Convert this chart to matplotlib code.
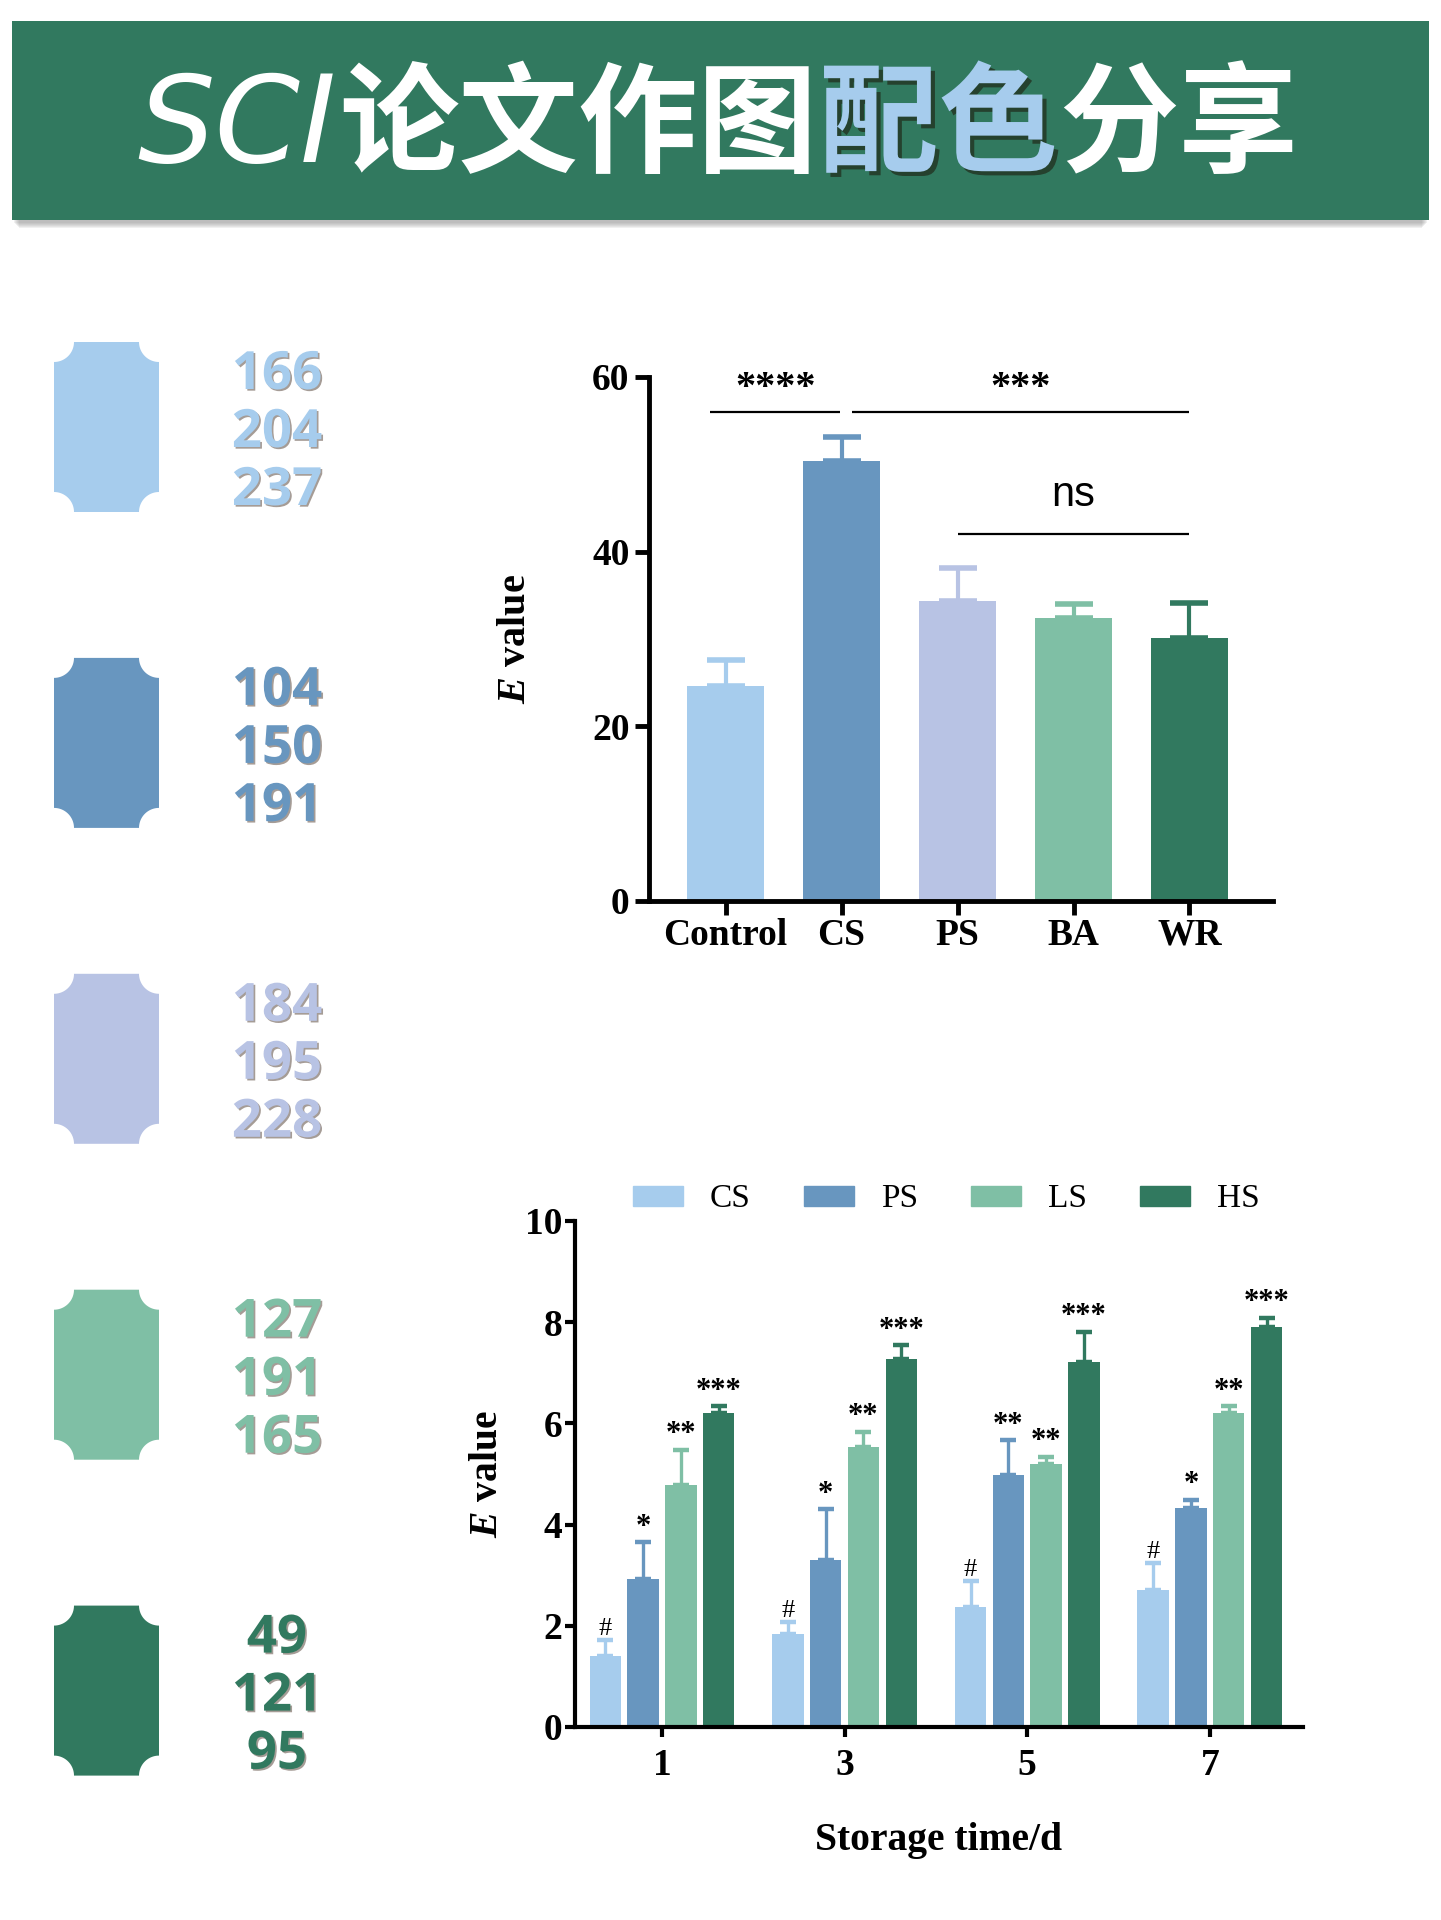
import matplotlib
matplotlib.use('Agg')
import matplotlib.pyplot as plt
import matplotlib.patheffects as pe
from matplotlib.patches import Rectangle, Polygon, Patch
import numpy as np

plt.rcParams['font.family'] = 'Liberation Serif'
plt.rcParams['font.weight'] = 'bold'
plt.rcParams['axes.labelweight'] = 'bold'
plt.rcParams['mathtext.fontset'] = 'custom'
plt.rcParams['mathtext.it'] = 'Liberation Serif:italic:bold'
plt.rcParams['mathtext.rm'] = 'Liberation Serif:bold'

# palette (RGB values printed next to each swatch)
palette_rgb = [(166, 204, 237), (104, 150, 191), (184, 195, 228), (127, 191, 165), (49, 121, 95)]
colors = ['#%02x%02x%02x' % c for c in palette_rgb]

# top chart
groups = ['Control', 'CS', 'PS', 'BA', 'WR']
group_means = [24.6, 50.4, 34.3, 32.4, 30.1]
group_errs = [3.0, 2.7, 3.8, 1.6, 4.0]
group_colors = [colors[0], colors[1], colors[2], colors[3], colors[4]]
sig_x0 = [-0.13, 1.09, 2.0]
sig_x1 = [0.99, 4.0, 4.0]
sig_y = [56, 56, 42]
sig_text = ['****', '***', 'ns']

# bottom chart
days = ['1', '3', '5', '7']
series = ['CS', 'PS', 'LS', 'HS']
cs_mean = [1.41, 1.84, 2.37, 2.71]
ps_mean = [2.93, 3.30, 4.99, 4.32]
ls_mean = [4.78, 5.53, 5.20, 6.20]
hs_mean = [6.20, 7.27, 7.21, 7.91]
cs_err = [0.31, 0.23, 0.51, 0.53]
ps_err = [0.72, 1.00, 0.68, 0.17]
ls_err = [0.70, 0.30, 0.14, 0.14]
hs_err = [0.14, 0.27, 0.60, 0.18]
cs_sig = ['#', '#', '#', '#']
ps_sig = ['*', '*', '**', '*']
ls_sig = ['**', '**', '**', '**']
hs_sig = ['***', '***', '***', '***']
series_colors = [colors[0], colors[1], colors[3], colors[4]]

W, H = 1441, 1920
fig = plt.figure(figsize=(W / 100, H / 100), dpi=100)
fig.patch.set_facecolor('white')

# background layer in pixel coordinates
bg = fig.add_axes([0, 0, 1, 1])
bg.set_xlim(0, W)
bg.set_ylim(H, 0)
bg.axis('off')

# banner + soft shadow
for i in range(6):
    bg.add_patch(Rectangle((14 + i, 24 + i), W - 28 - 2 * i, 199, color='#8a8a8a', alpha=0.12, lw=0))
bg.add_patch(Rectangle((12, 21), W - 24, 199, color=colors[4], lw=0))

title_size = 86
cjk = ['Noto Sans CJK SC', 'DejaVu Sans']
ty = 128
bg.text(336, ty, 'SCI', family='DejaVu Sans', style='oblique', weight='normal',
        fontsize=88, color='white', ha='right', va='center')
bg.text(339, ty, '论文作图', family=cjk, weight='heavy', fontsize=title_size,
        color='white', ha='left', va='center')
bg.text(819, ty, '配色', family=cjk, weight='heavy', fontsize=title_size,
        color=colors[0], ha='left', va='center',
        path_effects=[pe.withSimplePatchShadow(offset=(3, -3), shadow_rgbFace='#223322', alpha=0.8)])
bg.text(1059, ty, '分享', family=cjk, weight='heavy', fontsize=title_size,
        color='white', ha='left', va='center')

# swatches with notched corners
def notched(x0, y0, w, h, r, n=20):
    t = np.linspace(0, np.pi / 2, n)
    x1, y1 = x0 + w, y0 + h
    pts = []
    pts += list(zip(x0 + r * np.sin(t), y0 + r * np.cos(t)))
    pts += list(zip(x1 - r * np.cos(t), y0 + r * np.sin(t)))
    pts += list(zip(x1 - r * np.sin(t), y1 - r * np.cos(t)))
    pts += list(zip(x0 + r * np.cos(t), y1 - r * np.sin(t)))
    return np.array(pts)

sw_top = 342
sw_step = 315.9
for k, (rgb, c) in enumerate(zip(palette_rgb, colors)):
    top = sw_top + k * sw_step
    bg.add_patch(Polygon(notched(54, top, 105, 170, 20), closed=True, color=c, lw=0))
    cy = top + 85
    for j, v in enumerate(rgb):
        bg.text(277, cy - 38 + 58 * j, str(v), family='Open Sans', weight='bold', fontsize=38,
                color=c, ha='center', va='baseline',
                path_effects=[pe.withSimplePatchShadow(offset=(1.2, -1.2), shadow_rgbFace='#6a5a50', alpha=0.6)])

# ---- top chart ----
ax1 = fig.add_axes([649 / W, 1 - 901 / H, (1273 - 649) / W, (901 - 377) / H])
x = np.arange(len(groups))
ax1.bar(x, group_means, width=0.66, color=group_colors, zorder=2)
for xi, m, e, c in zip(x, group_means, group_errs, group_colors):
    ax1.errorbar(xi, m, yerr=[[0], [e]], fmt='none', ecolor=c, elinewidth=3,
                 capsize=14, capthick=4, zorder=3)
for a, b, y, s in zip(sig_x0, sig_x1, sig_y, sig_text):
    ax1.plot([a, b], [y, y], color='black', lw=1.6, solid_capstyle='butt')
    if s == 'ns':
        ax1.text((a + b) / 2, y + 3.2, s, family='Liberation Sans', weight='normal',
                 fontsize=30, ha='center', va='baseline')
    else:
        ax1.text((a + b) / 2, y + 1.6, s, fontsize=29, ha='center', va='baseline')
ax1.set_xlim(-0.66, 4.72)
ax1.set_ylim(0, 60)
ax1.set_yticks([0, 20, 40, 60])
ax1.set_xticks(x)
ax1.set_xticklabels(groups)
ax1.set_ylabel(r'$\mathit{E}$ value', fontsize=29, labelpad=42)
for s in ['top', 'right']:
    ax1.spines[s].set_visible(False)
for s in ['left', 'bottom']:
    ax1.spines[s].set_linewidth(3.5)
ax1.tick_params(width=3.5, length=10, labelsize=27)
ax1.tick_params(axis='x', pad=2)
ax1.tick_params(axis='y', pad=4)

# ---- bottom chart ----
ax2 = fig.add_axes([575 / W, 1 - 1727 / H, (1303 - 575) / W, (1727 - 1221) / H])
xd = np.arange(len(days))
step, bw = 0.207, 0.172
means = [cs_mean, ps_mean, ls_mean, hs_mean]
errs = [cs_err, ps_err, ls_err, hs_err]
sigs = [cs_sig, ps_sig, ls_sig, hs_sig]
handles = []
for i, (name, m, e, sg, c) in enumerate(zip(series, means, errs, sigs, series_colors)):
    xs = xd + (i - 1.5) * step
    ax2.bar(xs, m, width=bw, color=c, zorder=2)
    handles.append(Patch(color=c, label=name))
    for xi, mi, ei, si in zip(xs, m, e, sg):
        ax2.errorbar(xi, mi, yerr=[[0], [ei]], fmt='none', ecolor=c, elinewidth=2.4,
                     capsize=6, capthick=3.2, zorder=3)
        if si == '#':
            ax2.text(xi, mi + ei + 0.1, si, weight='normal', fontsize=19, ha='center', va='baseline')
        else:
            ax2.text(xi, mi + ei + 0.15, si, fontsize=22, ha='center', va='baseline')
ax2.set_xlim(-0.476, 3.51)
ax2.set_ylim(0, 10)
ax2.set_yticks(np.arange(0, 11, 2))
ax2.set_xticks(xd)
ax2.set_xticklabels(days)
ax2.set_ylabel(r'$\mathit{E}$ value', fontsize=28.5, labelpad=14)
ax2.set_xlabel('Storage time/d', fontsize=28.5, labelpad=28)
for s in ['top', 'right']:
    ax2.spines[s].set_visible(False)
for s in ['left', 'bottom']:
    ax2.spines[s].set_linewidth(3)
ax2.tick_params(width=3, length=7, labelsize=27)
ax2.tick_params(axis='x', pad=8)
ax2.tick_params(axis='y', pad=2)
ax2.legend(handles=handles, ncol=4, loc='center', bbox_to_anchor=(0.51, 1.043),
           frameon=False, prop={'family': 'Liberation Serif', 'weight': 'normal', 'size': 24},
           handlelength=1.5, handleheight=0.53, handletextpad=0.8, columnspacing=1.6,
           borderaxespad=0)

fig.savefig('out.png', dpi=100)
